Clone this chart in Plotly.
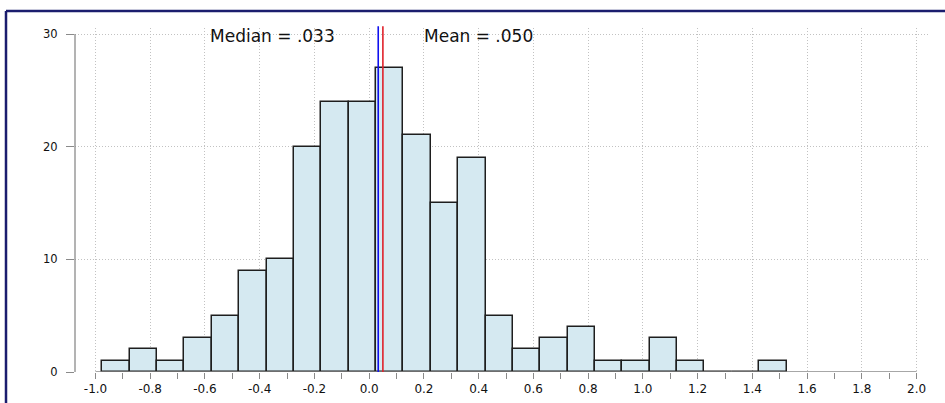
import numpy as np
import plotly.graph_objects as go

# ---- data ----
bin_start = -0.975
bin_width = 0.1
counts = [1, 2, 1, 3, 5, 9, 10, 20, 24, 24, 27, 21, 15, 19, 5, 2, 3, 4, 1, 1, 3, 1, 0, 0, 1]
median_val = 0.033
mean_val = 0.050
median_label = "Median = .033"
mean_label = "Mean = .050"
x_tickvals = [-1.0, -0.8, -0.6, -0.4, -0.2, 0.0, 0.2, 0.4, 0.6, 0.8, 1.0, 1.2, 1.4, 1.6, 1.8, 2.0]
x_ticktext = ["-1.0", "-0.8", "-0.6", "-0.4", "-0.2", "0.0", "0.2", "0.4", "0.6", "0.8",
              "1.0", "1.2", "1.4", "1.6", "1.8", "2.0"]
y_tickvals = [0, 10, 20, 30]
y_ticktext = ["0", "10", "20", "30"]

centers = [bin_start + bin_width * (i + 0.5) for i in range(len(counts))]

W, H = 945, 403
ML, MR, MT, MB = 75, 16, 28, 31
pw = W - ML - MR
ph = H - MT - MB

axis_grey = "#8a8a8a"
grid_grey = "#c2c2c2"
border = "#1b1d6e"

fig = go.Figure()
fig.add_trace(go.Bar(
    x=centers, y=counts, width=bin_width,
    marker=dict(color="#d5e9f1", line=dict(color="#1e1e1e", width=1.5)),
    showlegend=False, hoverinfo="x+y",
))

shapes = []
# axis lines (span only the labelled range)
shapes.append(dict(type="line", xref="x", yref="y", x0=x_tickvals[0], x1=x_tickvals[-1], y0=0, y1=0,
                   line=dict(color=axis_grey, width=1.3), layer="above"))
shapes.append(dict(type="line", xref="paper", yref="y", x0=0, x1=0, y0=y_tickvals[0], y1=y_tickvals[-1],
                   line=dict(color=axis_grey, width=1.3), layer="above"))
# median / mean lines
shapes.append(dict(type="line", xref="x", yref="paper", x0=median_val, x1=median_val, y0=0, y1=1.005,
                   line=dict(color="#1010ee", width=1.6), layer="above"))
shapes.append(dict(type="line", xref="x", yref="paper", x0=mean_val, x1=mean_val, y0=0, y1=1.005,
                   line=dict(color="#e0202a", width=1.6), layer="above"))
# outer frame (top and left visible)
bx = (6 - ML) / pw
by = (H - MB - 11) / ph
shapes.append(dict(type="line", xref="paper", yref="paper", x0=bx, x1=bx, y0=-0.3, y1=by,
                   line=dict(color=border, width=2.5)))
shapes.append(dict(type="line", xref="paper", yref="paper", x0=bx, x1=1.2, y0=by, y1=by,
                   line=dict(color=border, width=2.5)))

annotations = [
    dict(x=median_val - 0.151, y=y_tickvals[-1] - 0.2, xref="x", yref="y", text=median_label,
         showarrow=False, xanchor="right", yanchor="middle",
         font=dict(family="DejaVu Sans", size=17, color="#111111")),
    dict(x=mean_val + 0.142, y=y_tickvals[-1] - 0.2, xref="x", yref="y", text=mean_label,
         showarrow=False, xanchor="left", yanchor="middle",
         font=dict(family="DejaVu Sans", size=17, color="#111111")),
]

px_per_unit = 273.7
x0_px = 369.2
xr = [(ML - x0_px) / px_per_unit, (W - MR - x0_px) / px_per_unit]
yr = [0, ph / (338 / 30)]

fig.update_layout(
    width=W, height=H,
    margin=dict(l=ML, r=MR, t=MT, b=MB, pad=0, autoexpand=False),
    paper_bgcolor="white", plot_bgcolor="white",
    bargap=0,
    shapes=shapes, annotations=annotations,
    font=dict(family="DejaVu Sans", size=12, color="#111111"),
    xaxis=dict(range=xr, tickmode="array", tickvals=x_tickvals, ticktext=x_ticktext,
               ticks="outside", ticklen=6, tickcolor=axis_grey, tickwidth=1.2,
               showline=False, zeroline=False, automargin=False,
               showgrid=True, gridcolor=grid_grey, griddash="1px,2px", gridwidth=1,
               tickfont=dict(family="DejaVu Sans", size=12, color="#111111"),
               minor=dict(tickmode="linear", tick0=0, dtick=0.1, ticks="outside", ticklen=6,
                          tickcolor=axis_grey, tickwidth=1.2, showgrid=False),
               fixedrange=True),
    yaxis=dict(range=yr, tickmode="array", tickvals=y_tickvals, ticktext=y_ticktext,
               ticks="outside", ticklen=8, tickcolor=axis_grey, tickwidth=1.2,
               showline=False, zeroline=False, automargin=False,
               showgrid=True, gridcolor=grid_grey, griddash="1px,2px", gridwidth=1,
               tickfont=dict(family="DejaVu Sans", size=11.5, color="#111111"),
               ticklabelstandoff=6,
               fixedrange=True),
)

fig.write_html("out.html", config={"displayModeBar": False},
               post_script="document.body.style.margin='0px';")
